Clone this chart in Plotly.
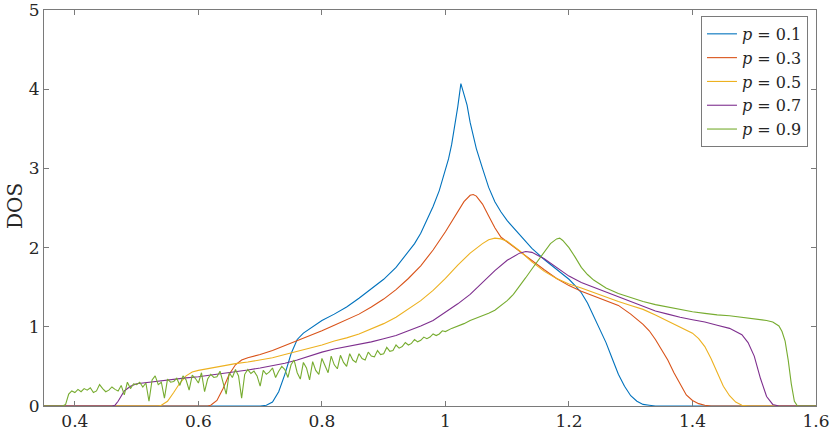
import plotly.graph_objects as go

# ---- data ----
x_p01 = [0.35, 0.70, 0.71, 0.72, 0.73, 0.74, 0.75, 0.76, 0.77, 0.78, 0.79, 0.80, 0.82, 0.84, 0.86, 0.88,
         0.90, 0.92, 0.94, 0.95, 0.96, 0.97, 0.98, 0.99, 1.00, 1.005, 1.01, 1.015, 1.02, 1.025, 1.03,
         1.035, 1.04, 1.045, 1.05, 1.06, 1.07, 1.08, 1.09, 1.10, 1.12, 1.14, 1.16, 1.18, 1.20, 1.21,
         1.22, 1.23, 1.24, 1.25, 1.26, 1.27, 1.28, 1.29, 1.30, 1.31, 1.32, 1.33, 1.34, 1.60]
y_p01 = [0, 0, 0.01, 0.05, 0.18, 0.40, 0.66, 0.84, 0.92, 0.97, 1.03, 1.08, 1.16, 1.25, 1.36, 1.48,
         1.60, 1.75, 1.94, 2.05, 2.18, 2.34, 2.52, 2.72, 2.97, 3.12, 3.30, 3.52, 3.78, 4.07, 3.95,
         3.80, 3.58, 3.40, 3.25, 3.00, 2.76, 2.58, 2.45, 2.34, 2.16, 1.99, 1.85, 1.72, 1.60, 1.52,
         1.43, 1.30, 1.13, 0.98, 0.80, 0.60, 0.40, 0.25, 0.13, 0.06, 0.02, 0.01, 0, 0]

x_p03 = [0.35, 0.615, 0.62, 0.63, 0.64, 0.65, 0.66, 0.67, 0.68, 0.70, 0.72, 0.74, 0.76, 0.78, 0.80,
         0.82, 0.84, 0.86, 0.88, 0.90, 0.92, 0.94, 0.96, 0.98, 1.00, 1.01, 1.02, 1.03, 1.04, 1.045,
         1.05, 1.06, 1.07, 1.08, 1.09, 1.10, 1.12, 1.14, 1.16, 1.18, 1.20, 1.22, 1.24, 1.26, 1.28,
         1.30, 1.32, 1.33, 1.34, 1.35, 1.36, 1.37, 1.38, 1.39, 1.40, 1.41, 1.42, 1.43, 1.60]
y_p03 = [0, 0, 0.01, 0.07, 0.22, 0.40, 0.52, 0.58, 0.61, 0.65, 0.70, 0.76, 0.82, 0.88, 0.95,
         1.02, 1.09, 1.16, 1.25, 1.35, 1.47, 1.61, 1.77, 1.97, 2.20, 2.33, 2.46, 2.58, 2.66, 2.67,
         2.65, 2.55, 2.40, 2.25, 2.13, 2.07, 1.96, 1.84, 1.72, 1.61, 1.52, 1.45, 1.39, 1.33, 1.27,
         1.16, 1.03, 0.95, 0.84, 0.71, 0.58, 0.42, 0.27, 0.14, 0.07, 0.03, 0.01, 0, 0]

x_p05 = [0.35, 0.535, 0.54, 0.55, 0.56, 0.57, 0.58, 0.59, 0.60, 0.62, 0.64, 0.66, 0.68, 0.70, 0.72,
         0.74, 0.76, 0.78, 0.80, 0.82, 0.84, 0.86, 0.88, 0.90, 0.92, 0.94, 0.96, 0.98, 1.00, 1.02,
         1.04, 1.06, 1.07, 1.08, 1.09, 1.10, 1.12, 1.14, 1.16, 1.18, 1.20, 1.22, 1.24, 1.26, 1.28,
         1.30, 1.32, 1.34, 1.36, 1.38, 1.40, 1.41, 1.42, 1.43, 1.44, 1.45, 1.46, 1.47, 1.48, 1.49, 1.60]
y_p05 = [0, 0, 0.01, 0.06, 0.17, 0.29, 0.38, 0.43, 0.45, 0.48, 0.51, 0.535, 0.555, 0.58, 0.61,
         0.65, 0.69, 0.73, 0.77, 0.82, 0.86, 0.91, 0.97, 1.04, 1.12, 1.22, 1.33, 1.46, 1.61, 1.78,
         1.93, 2.05, 2.10, 2.12, 2.11, 2.08, 1.96, 1.82, 1.70, 1.61, 1.54, 1.49, 1.43, 1.38, 1.32,
         1.27, 1.22, 1.15, 1.07, 0.99, 0.92, 0.85, 0.75, 0.60, 0.42, 0.25, 0.13, 0.05, 0.01, 0, 0]

x_p07 = [0.35, 0.46, 0.465, 0.47, 0.48, 0.49, 0.50, 0.52, 0.54, 0.56, 0.58, 0.60, 0.62, 0.64, 0.66,
         0.68, 0.70, 0.72, 0.74, 0.76, 0.78, 0.80, 0.82, 0.84, 0.86, 0.88, 0.90, 0.92, 0.94, 0.96,
         0.98, 1.00, 1.02, 1.04, 1.06, 1.08, 1.10, 1.12, 1.13, 1.14, 1.16, 1.18, 1.20, 1.22, 1.24,
         1.26, 1.28, 1.30, 1.32, 1.34, 1.36, 1.38, 1.40, 1.42, 1.44, 1.46, 1.48, 1.49, 1.50, 1.51,
         1.52, 1.53, 1.54, 1.60]
y_p07 = [0, 0, 0.01, 0.06, 0.19, 0.25, 0.28, 0.30, 0.32, 0.34, 0.355, 0.37, 0.39, 0.41, 0.43,
         0.455, 0.48, 0.51, 0.54, 0.58, 0.63, 0.68, 0.72, 0.75, 0.78, 0.81, 0.85, 0.89, 0.95, 1.01,
         1.08, 1.18, 1.29, 1.41, 1.56, 1.71, 1.84, 1.93, 1.95, 1.94, 1.86, 1.75, 1.64, 1.56, 1.50,
         1.44, 1.38, 1.32, 1.26, 1.20, 1.16, 1.12, 1.09, 1.06, 1.02, 0.98, 0.90, 0.80, 0.63, 0.35,
         0.12, 0.02, 0, 0]

x_p09 = [0.35, 0.380, 0.385, 0.390, 0.395, 0.400, 0.405, 0.410, 0.415, 0.420, 0.425, 0.430, 0.435,
         0.440, 0.445, 0.450, 0.455, 0.460, 0.465, 0.470, 0.475, 0.480, 0.485, 0.490, 0.495, 0.500,
         0.505, 0.510, 0.515, 0.520, 0.525, 0.530, 0.535, 0.540, 0.545, 0.550, 0.555, 0.560, 0.565,
         0.570, 0.575, 0.580, 0.585, 0.590, 0.595, 0.600, 0.605, 0.610, 0.615, 0.620, 0.625, 0.630,
         0.635, 0.640, 0.645, 0.650, 0.655, 0.660, 0.665, 0.670, 0.675, 0.680, 0.685, 0.690, 0.695,
         0.700, 0.705, 0.710, 0.715, 0.720, 0.725, 0.730, 0.735, 0.740, 0.745, 0.750, 0.755, 0.760,
         0.765, 0.770, 0.775, 0.780, 0.785, 0.790, 0.795, 0.800, 0.805, 0.810, 0.815, 0.820, 0.825,
         0.830, 0.835, 0.840, 0.845, 0.850, 0.855, 0.860, 0.865, 0.870, 0.875, 0.880, 0.885, 0.890,
         0.895, 0.900, 0.905, 0.910, 0.915, 0.920, 0.925, 0.930, 0.935, 0.940, 0.945, 0.950, 0.955,
         0.960, 0.965, 0.970, 0.975, 0.980, 0.985, 0.990, 0.995, 1.000, 1.01, 1.02, 1.03, 1.04, 1.05,
         1.06, 1.07, 1.08, 1.09, 1.10, 1.11, 1.12, 1.13, 1.14, 1.15, 1.16, 1.17, 1.18, 1.185, 1.19,
         1.20, 1.21, 1.22, 1.23, 1.24, 1.25, 1.26, 1.28, 1.30, 1.32, 1.34, 1.36, 1.38, 1.40, 1.42,
         1.44, 1.46, 1.48, 1.50, 1.52, 1.53, 1.54, 1.545, 1.55, 1.555, 1.56, 1.565, 1.57, 1.60]
y_p09 = [0, 0, 0.02, 0.15, 0.19, 0.17, 0.21, 0.18, 0.22, 0.20, 0.23, 0.17, 0.19,
         0.27, 0.22, 0.18, 0.20, 0.24, 0.21, 0.19, 0.26, 0.14, 0.30, 0.22, 0.28, 0.27,
         0.30, 0.24, 0.29, 0.06, 0.33, 0.38, 0.27, 0.30, 0.10, 0.34, 0.30, 0.31, 0.35,
         0.26, 0.38, 0.33, 0.20, 0.39, 0.35, 0.29, 0.42, 0.18, 0.34, 0.40, 0.36, 0.37,
         0.44, 0.30, 0.15, 0.42, 0.36, 0.46, 0.38, 0.10, 0.40, 0.46, 0.41, 0.44, 0.38,
         0.25, 0.45, 0.40, 0.43, 0.48, 0.36, 0.44, 0.50, 0.46, 0.36, 0.52, 0.58, 0.42,
         0.34, 0.55, 0.48, 0.33, 0.56, 0.45, 0.40, 0.60, 0.50, 0.42, 0.63, 0.52, 0.47,
         0.64, 0.55, 0.50, 0.66, 0.58, 0.55, 0.66, 0.60, 0.58, 0.68, 0.63, 0.62, 0.70,
         0.65, 0.66, 0.74, 0.69, 0.70, 0.77, 0.73, 0.75, 0.80, 0.77, 0.79, 0.84, 0.81,
         0.83, 0.87, 0.85, 0.87, 0.91, 0.89, 0.91, 0.95, 0.94, 0.98, 1.01, 1.04, 1.08, 1.11,
         1.14, 1.17, 1.21, 1.27, 1.33, 1.41, 1.51, 1.62, 1.73, 1.84, 1.95, 2.05, 2.11, 2.12, 2.09,
         2.00, 1.88, 1.75, 1.66, 1.59, 1.54, 1.49, 1.42, 1.37, 1.32, 1.28, 1.25, 1.22, 1.19, 1.17,
         1.15, 1.14, 1.12, 1.10, 1.08, 1.06, 1.01, 0.94, 0.82, 0.58, 0.28, 0.06, 0, 0]

series_names = ["<i>p</i> = 0.1", "<i>p</i> = 0.3", "<i>p</i> = 0.5", "<i>p</i> = 0.7", "<i>p</i> = 0.9"]
series_x = [x_p01, x_p03, x_p05, x_p07, x_p09]
series_y = [y_p01, y_p03, y_p05, y_p07, y_p09]
colors = ["#0072BD", "#D95319", "#EDB120", "#7E2F8E", "#77AC30"]

x_ticks = [0.4, 0.6, 0.8, 1.0, 1.2, 1.4, 1.6]
x_tick_labels = ["0.4", "0.6", "0.8", "1", "1.2", "1.4", "1.6"]
y_ticks = [0, 1, 2, 3, 4, 5]

FONT = "DejaVu Serif"
TXT = "#262626"

fig = go.Figure()
for name, xs, ys, c in zip(series_names, series_x, series_y, colors):
    fig.add_trace(go.Scatter(x=xs, y=ys, mode="lines", name=name,
                             line=dict(color=c, width=1.1)))

axis_common = dict(showline=True, linecolor="#7a7a7a", linewidth=1, mirror="ticks",
                   ticks="inside", ticklen=5, tickcolor="#7a7a7a", tickwidth=1,
                   showgrid=False, zeroline=False, automargin=False,
                   ticklabeloverflow="allow",
                   tickfont=dict(family=FONT, size=17, color=TXT))

fig.update_layout(
    width=830, height=432,
    margin=dict(l=44, r=14, t=10, b=26),
    plot_bgcolor="white", paper_bgcolor="white",
    font=dict(family=FONT, color=TXT),
    xaxis=dict(range=[0.35, 1.6], tickvals=x_ticks, ticktext=x_tick_labels, **axis_common),
    yaxis=dict(range=[0, 5], tickvals=y_ticks, **axis_common),
    legend=dict(x=0.9896, y=0.985, xanchor="right", yanchor="top",
                bgcolor="white", bordercolor="#7a7a7a", borderwidth=1,
                font=dict(family=FONT, size=16, color=TXT),
                itemwidth=30, tracegroupgap=0),
    showlegend=True,
)
fig.add_annotation(text="DOS", xref="paper", yref="paper", x=-0.0376, y=0.505,
                   xanchor="center", yanchor="middle", textangle=-90, showarrow=False,
                   font=dict(family=FONT, size=20, color=TXT))

fig.write_html("out.html", config={"displayModeBar": False},
               post_script="document.body.style.margin='0';")
